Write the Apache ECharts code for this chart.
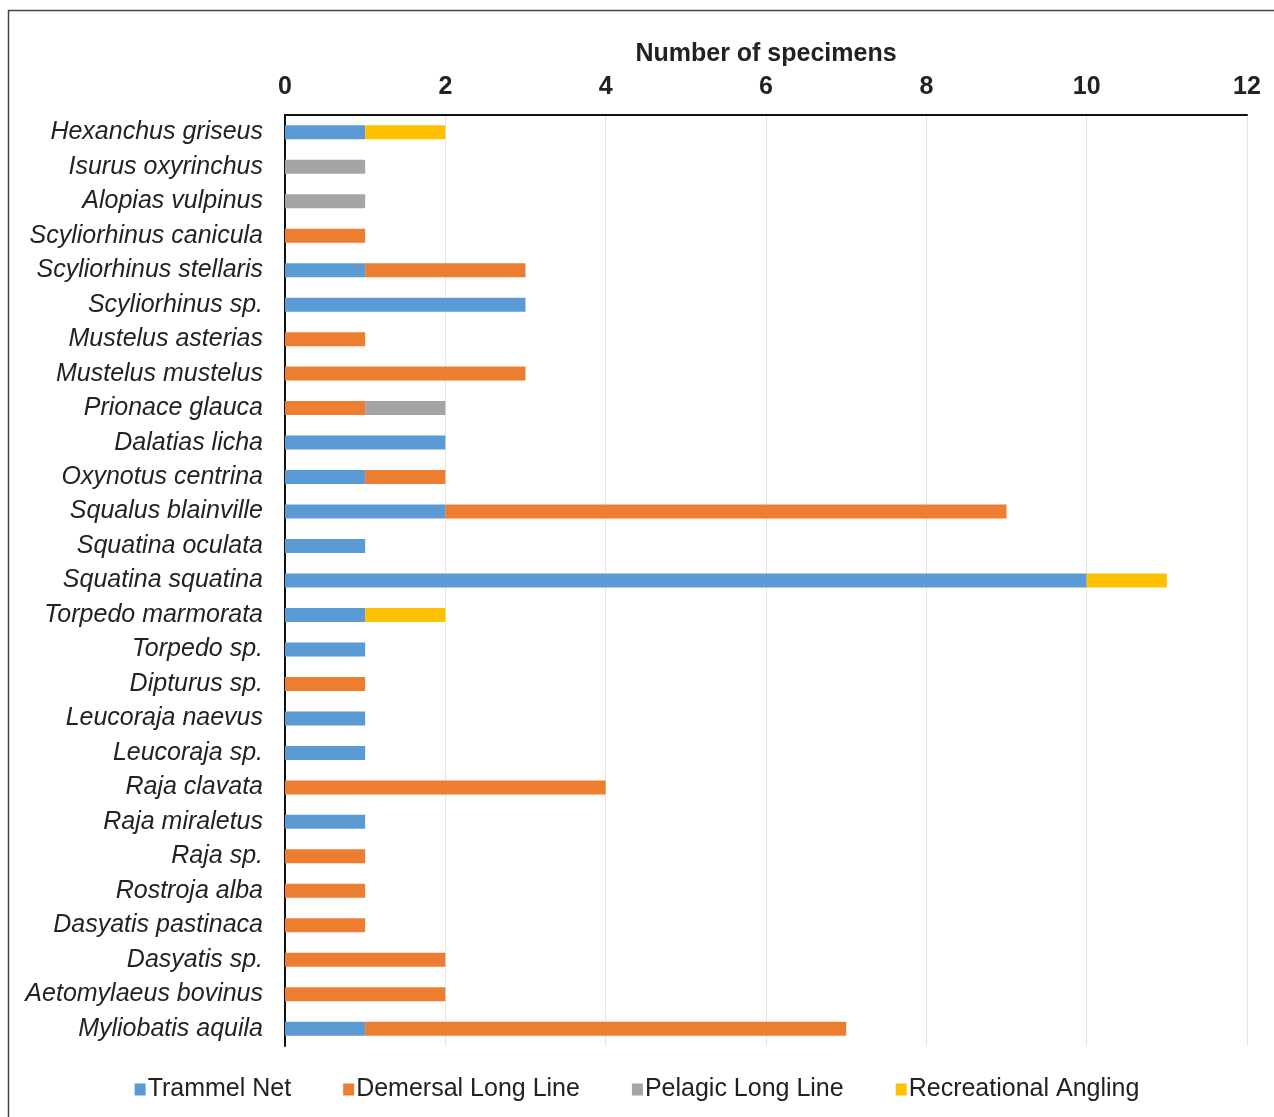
<!DOCTYPE html>
<html>
<head>
<meta charset="utf-8">
<script src="https://cdn.jsdelivr.net/npm/echarts@6/dist/echarts.min.js"></script>
<style>
  html, body { margin: 0; padding: 0; background: #fff; }
  #main { width: 1274px; height: 1117px; }
</style>
</head>
<body>
<div id="main"></div>
<script>
const species = [
  'Hexanchus griseus', 'Isurus oxyrinchus', 'Alopias vulpinus', 'Scyliorhinus canicula',
  'Scyliorhinus stellaris', 'Scyliorhinus sp.', 'Mustelus asterias', 'Mustelus mustelus',
  'Prionace glauca', 'Dalatias licha', 'Oxynotus centrina', 'Squalus blainville',
  'Squatina oculata', 'Squatina squatina', 'Torpedo marmorata', 'Torpedo sp.',
  'Dipturus sp.', 'Leucoraja naevus', 'Leucoraja sp.', 'Raja clavata',
  'Raja miraletus', 'Raja sp.', 'Rostroja alba', 'Dasyatis pastinaca',
  'Dasyatis sp.', 'Aetomylaeus bovinus', 'Myliobatis aquila'
]
const trammelNet     = [1,0,0,0,1,3,0,0,0,2,1,2,1,10,1,1,0,1,1,0,1,0,0,0,0,0,1]
const demersalLong   = [0,0,0,1,2,0,1,3,1,0,1,7,0,0,0,0,1,0,0,4,0,1,1,1,2,2,6]
const pelagicLong    = [0,1,1,0,0,0,0,0,1,0,0,0,0,0,0,0,0,0,0,0,0,0,0,0,0,0,0]
const recreational   = [1,0,0,0,0,0,0,0,0,0,0,0,0,1,1,0,0,0,0,0,0,0,0,0,0,0,0]
const xTicks = [0, 2, 4, 6, 8, 10, 12]

const chart = echarts.init(document.getElementById('main'))

function bar(name, data, color) {
  return {
    name, type: 'bar', stack: 'total', data,
    barWidth: 14,
    itemStyle: { color },
    emphasis: { disabled: true }
  }
}

chart.setOption({
  animation: false,
  textStyle: { fontFamily: 'Liberation Sans, Arial, sans-serif' },
  graphic: [{
    type: 'rect',
    shape: { x: 8.5, y: 10.5, width: 1300, height: 1200 },
    style: { fill: 'none', stroke: '#444', lineWidth: 1.5 },
    silent: true
  }],
  grid: { left: 285, right: 27, top: 115, bottom: 71, containLabel: false },
  legend: {
    bottom: 10,
    left: 'center',
    itemWidth: 11, itemHeight: 12, itemGap: 52,
    icon: 'rect',
    textStyle: { fontSize: 25, color: '#222', padding: [0, 0, 0, -3] },
    data: ['Trammel Net', 'Demersal Long Line', 'Pelagic Long Line', 'Recreational Angling']
  },
  xAxis: {
    type: 'value', position: 'top',
    min: 0, max: 12, interval: 2,
    name: 'Number of specimens', nameLocation: 'middle', nameGap: 48,
    nameTextStyle: { fontSize: 25, fontWeight: 'bold', color: '#222' },
    axisLine: { show: true, lineStyle: { color: '#111', width: 2 } },
    axisTick: { show: false },
    axisLabel: {
      fontSize: 25, fontWeight: 'bold', color: '#222', margin: 15,
      formatter: v => xTicks.includes(v) ? String(v) : ''
    },
    splitLine: { show: true, lineStyle: { color: '#e4e4e4', width: 1 } }
  },
  yAxis: {
    type: 'category', data: species, inverse: true,
    axisLine: { show: true, lineStyle: { color: '#111', width: 2 } },
    axisTick: { show: false },
    axisLabel: { fontSize: 25, fontStyle: 'italic', color: '#222', margin: 22, padding: [3, 0, 0, 0] }
  },
  series: [
    bar('Trammel Net', trammelNet, '#5B9BD5'),
    bar('Demersal Long Line', demersalLong, '#ED7D31'),
    bar('Pelagic Long Line', pelagicLong, '#A5A5A5'),
    bar('Recreational Angling', recreational, '#FFC000')
  ]
})

window.addEventListener('resize', () => chart.resize())
</script>
</body>
</html>
